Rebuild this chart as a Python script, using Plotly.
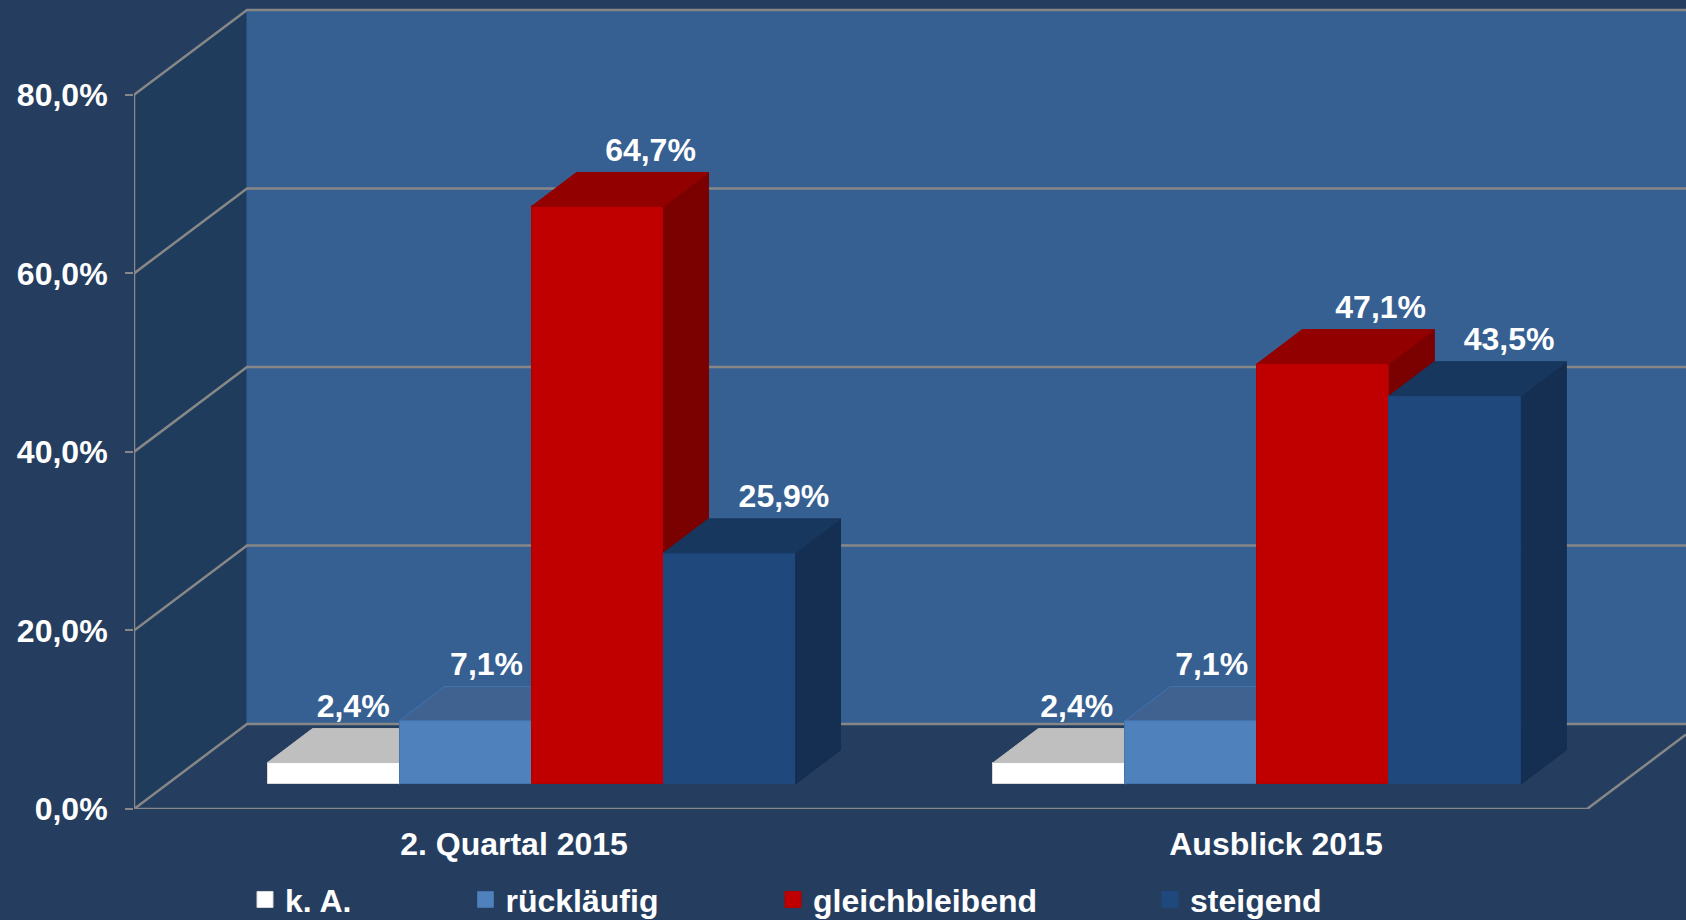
import plotly.graph_objects as go

categories = ["2. Quartal 2015", "Ausblick 2015"]
series_names = ["k. A.", "rückläufig", "gleichbleibend", "steigend"]
k_a = [2.4, 2.4]
ruecklaeufig = [7.1, 7.1]
gleichbleibend = [64.7, 47.1]
steigend = [25.9, 43.5]
y_ticks = [0, 20, 40, 60, 80]
y_tick_labels = ["0,0%", "20,0%", "40,0%", "60,0%", "80,0%"]

series_values = [k_a, ruecklaeufig, gleichbleibend, steigend]
front_colors = ["#FFFFFF", "#4F81BD", "#C00000", "#1F497D"]
edge_colors = ["#D9D9D9", "#4474AE", "#B00000", "#1F497D"]
top_colors = ["#BFBFBF", "#3F6290", "#930000", "#17375E"]
side_colors = ["#A6A6A6", "#3A5F8F", "#7B0000", "#142F52"]
label_shift = [[0.027, 0.024], [0.029, 0.028], [0.073, 0.079], [0.075, 0.074]]

BG = "#253E60"
LEFT_WALL = "#203C5C"
BACK_WALL = "#376092"
GRID = "#878787"
FONT = "Liberation Sans"

PX_X = 725.8
PX_Y = 8.93
X0 = -0.5477
X_RANGE = [X0, X0 + 1552 / PX_X]
Y_RANGE = [0, 809.3 / PX_Y]
X1 = X0 + 1453 / PX_X
WALL_DX = 113 / PX_X
WALL_DY = 85 / PX_Y
BAR_W = 132 / PX_X
BAR_BASE = 25 / PX_Y
DEPTH_DX = 45 / PX_X
DEPTH_DY = 34 / PX_Y
LABEL_UP = 19.5 / PX_Y

fig = go.Figure()


def poly(xs, ys, color, axes=("x", "y"), line=None):
    fig.add_trace(go.Scatter(
        x=xs + xs[:1], y=ys + ys[:1], mode="lines", fill="toself", fillcolor=color,
        line=dict(color=line or color, width=1), xaxis=axes[0], yaxis=axes[1],
        showlegend=False, hoverinfo="skip"))


def stroke(xs, ys):
    fig.add_trace(go.Scatter(
        x=xs, y=ys, mode="lines", line=dict(color=GRID, width=2.5), cliponaxis=False,
        showlegend=False, hoverinfo="skip"))


top_val = y_ticks[-1]
poly([X0, X0 + WALL_DX, X0 + WALL_DX, X0], [0, WALL_DY, top_val + WALL_DY, top_val], LEFT_WALL)
poly([X0 + WALL_DX, X_RANGE[1], X_RANGE[1], X0 + WALL_DX],
     [WALL_DY, WALL_DY, top_val + WALL_DY, top_val + WALL_DY], BACK_WALL)
for v in y_ticks:
    stroke([X0, X0 + WALL_DX, X_RANGE[1]], [v, v + WALL_DY, v + WALL_DY])
stroke([X0, X0], [0, top_val])
stroke([X0, X1, X_RANGE[1]], [0, 0, WALL_DY * (X_RANGE[1] - X1) / WALL_DX])

legend_px = [245, 465.5, 773, 1150]
layout_extra = {}
for i, name in enumerate(series_names):
    n = i + 2
    ax = (f"x{n}", f"y{n}")
    off = (i - 1.5) * BAR_W
    centers = [c + off for c in range(len(categories))]
    values = series_values[i]
    layout_extra[f"xaxis{n}"] = dict(overlaying="x", range=X_RANGE, visible=False)
    layout_extra[f"yaxis{n}"] = dict(overlaying="y", range=Y_RANGE, visible=False)
    for c, v in zip(centers, values):
        xl, xr = c - BAR_W / 2, c + BAR_W / 2
        t = BAR_BASE + v
        poly([xr, xr + DEPTH_DX, xr + DEPTH_DX, xr],
             [BAR_BASE, BAR_BASE + DEPTH_DY, t + DEPTH_DY, t], side_colors[i], ax)
        poly([xl, xr, xr + DEPTH_DX, xl + DEPTH_DX],
             [t, t, t + DEPTH_DY, t + DEPTH_DY], top_colors[i], ax,
             line=edge_colors[i] if i == 1 else None)
    fig.add_trace(go.Bar(
        x=centers, y=values, base=BAR_BASE, width=BAR_W, name=name,
        marker=dict(color=front_colors[i], line=dict(color=edge_colors[i], width=1)),
        xaxis=ax[0], yaxis=ax[1], showlegend=False,
        hovertemplate="%{y:.1f}%<extra>" + name + "</extra>"))
    lid = "legend" if i == 0 else f"legend{i + 1}"
    fig.add_trace(go.Scatter(
        x=[None], y=[None], mode="markers", name=name, legend=lid,
        marker=dict(symbol="square", size=16, color=front_colors[i],
                    line=dict(color=edge_colors[i], width=1)),
        xaxis=ax[0], yaxis=ax[1], hoverinfo="skip"))
    layout_extra[lid] = dict(
        x=(legend_px[i] - 134) / 1552, y=(809.3 - 900) / 809.3, xanchor="left", yanchor="middle",
        bgcolor="rgba(0,0,0,0)", font=dict(family=FONT, size=32, color="white", weight=700))

# data labels on top of everything
for i in range(len(series_names)):
    off = (i - 1.5) * BAR_W
    fig.add_trace(go.Scatter(
        x=[c + off + label_shift[i][c] for c in range(len(categories))],
        y=[BAR_BASE + v + DEPTH_DY + LABEL_UP for v in series_values[i]],
        text=[f"{v:.1f}".replace(".", ",") + "%" for v in series_values[i]],
        mode="text", textposition="middle center",
        textfont=dict(family=FONT, size=32, color="white", weight=700),
        xaxis="x5", yaxis="y5", showlegend=False, hoverinfo="skip"))

fig.update_layout(
    width=1686, height=920, autosize=False,
    margin=dict(l=134, r=0, t=0, b=111, pad=0, autoexpand=False),
    paper_bgcolor=BG, plot_bgcolor=BG,
    barmode="overlay", bargap=0,
    xaxis=dict(range=X_RANGE, tickmode="array", tickvals=[-0.0241, 1.0257], ticktext=categories,
               showgrid=False, zeroline=False, showline=False, ticks="", ticklabelstandoff=13,
               tickfont=dict(family=FONT, size=32, color="white", weight=700)),
    yaxis=dict(range=Y_RANGE, tickmode="array", tickvals=y_ticks, ticktext=y_tick_labels,
               showgrid=False, zeroline=False, showline=False, ticks="outside", ticklen=8,
               tickwidth=2, tickcolor=GRID, ticklabelstandoff=11,
               tickfont=dict(family=FONT, size=32, color="white", weight=700)),
    **layout_extra,
)

fig.write_html(
    "out.html",
    config={"displayModeBar": False},
    post_script="document.body.style.margin='0';document.documentElement.style.overflow='hidden';",
)
